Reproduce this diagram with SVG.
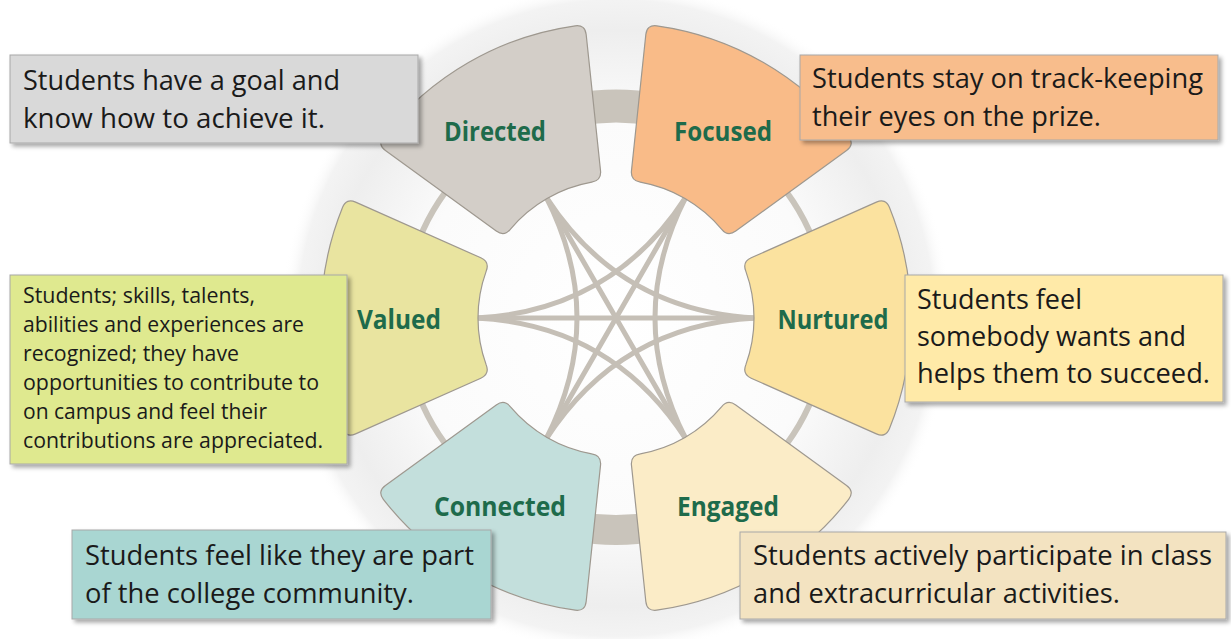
<svg xmlns="http://www.w3.org/2000/svg" xmlns:xlink="http://www.w3.org/1999/xlink" width="1231" height="639" viewBox="0 0 1231 639">
  <style>
    .sector { stroke: #9e988f; stroke-width: 1.2; }
    .lbl { font-family: "Open Sans", "Liberation Sans", sans-serif; font-weight: 700; font-size: 26px; fill: #1e6b4b; text-anchor: middle; }
    .box { stroke: #a8a8a8; stroke-width: 1; filter: url(#shadow); }
    .t { font-family: "Open Sans", "Liberation Sans", sans-serif; font-size: 27px; fill: #1a1a1a; }
    .t.s { font-size: 21px; }
    .link { fill: none; stroke: #c5bfb6; stroke-width: 5; stroke-linecap: round; }
    .ring { fill: none; stroke: #c9c4bb; }
  </style>
  <defs>
    <radialGradient id="halo" cx="616" cy="318" r="335" gradientUnits="userSpaceOnUse">
      <stop offset="0" stop-color="#ffffff"/>
      <stop offset="0.6" stop-color="#fbfbfb"/>
      <stop offset="0.86" stop-color="#eeeeee"/>
      <stop offset="0.95" stop-color="#f3f3f3"/>
      <stop offset="1" stop-color="#ffffff" stop-opacity="0"/>
    </radialGradient>
    <filter id="shadow" x="-5%" y="-10%" width="115%" height="130%">
      <feDropShadow dx="3" dy="3" stdDeviation="2" flood-color="#000" flood-opacity="0.35"/>
    </filter>
    <!-- annular sector, 48 degrees wide, pointing along +x, rounded corners -->
    <path id="sector" d="M135.2,-60.2 L260.4,-115.9 Q269.5,-120 273.4,-110.8 A295,295 0 0 1 273.4,110.8 Q269.5,120 260.4,115.9 L135.2,60.2 Q126.1,56.1 129.8,46.9 A138,138 0 0 0 129.8,-46.9 Q126.1,-56.1 135.2,-60.2 Z"/>
  </defs>

  <rect width="1231" height="639" fill="#ffffff"/>
  <circle cx="616" cy="318" r="335" fill="url(#halo)"/>

  <!-- outer hoop linking neighbouring nodes -->
  <g id="ring">
    <circle class="ring" cx="616" cy="318" r="212" stroke-width="6"/>
    <path class="ring" d="M575.5,109.9 A212,212 0 0 1 656.5,109.9" stroke-width="33"/>
    <path class="ring" d="M575.5,526.1 A212,212 0 0 0 656.5,526.1" stroke-width="30"/>
  </g>

  <!-- links across the middle -->
  <g id="connectors">
    <path class="link" d="M476,318 L756,318"/>
    <path class="link" d="M546,196.8 L686,439.2"/>
    <path class="link" d="M686,196.8 L546,439.2"/>
    <path class="link" d="M546,196.8 Q620,311.1 756,318"/>
    <path class="link" d="M686,196.8 Q624,318 686,439.2"/>
    <path class="link" d="M756,318 Q620,324.9 546,439.2"/>
    <path class="link" d="M686,439.2 Q612,324.9 476,318"/>
    <path class="link" d="M546,439.2 Q608,318 546,196.8"/>
    <path class="link" d="M476,318 Q612,311.1 686,196.8"/>
  </g>

  <g id="node-directed">
    <use href="#sector" class="sector" fill="#d3cec8" transform="translate(616 318) rotate(240)"/>
    <text class="lbl" x="495" y="141" textLength="102" lengthAdjust="spacingAndGlyphs">Directed</text>
    <rect class="box" x="10" y="55" width="408" height="88" fill="#d9d9d9"/>
    <text class="t" x="23" y="90" textLength="317" lengthAdjust="spacingAndGlyphs">Students have a goal and</text>
    <text class="t" x="23" y="128" textLength="302" lengthAdjust="spacingAndGlyphs">know how to achieve it.</text>
  </g>

  <g id="node-focused">
    <use href="#sector" class="sector" fill="#f9bb88" transform="translate(616 318) rotate(300)"/>
    <text class="lbl" x="723" y="141" textLength="98" lengthAdjust="spacingAndGlyphs">Focused</text>
    <rect class="box" x="800" y="55" width="418" height="85" fill="#f8bd8c"/>
    <text class="t" x="812" y="88" textLength="391" lengthAdjust="spacingAndGlyphs">Students stay on track-keeping</text>
    <text class="t" x="812" y="126" textLength="289" lengthAdjust="spacingAndGlyphs">their eyes on the prize.</text>
  </g>

  <g id="node-nurtured">
    <use href="#sector" class="sector" fill="#fbe29f" transform="translate(616 318) rotate(0)"/>
    <text class="lbl" x="833" y="329" textLength="111" lengthAdjust="spacingAndGlyphs">Nurtured</text>
    <rect class="box" x="905" y="275" width="318" height="127" fill="#ffeaa8"/>
    <text class="t" x="917" y="309" textLength="165" lengthAdjust="spacingAndGlyphs">Students feel</text>
    <text class="t" x="917" y="346" textLength="269" lengthAdjust="spacingAndGlyphs">somebody wants and</text>
    <text class="t" x="917" y="383" textLength="293" lengthAdjust="spacingAndGlyphs">helps them to succeed.</text>
  </g>

  <g id="node-engaged">
    <use href="#sector" class="sector" fill="#fbecc7" transform="translate(616 318) rotate(60)"/>
    <text class="lbl" x="728" y="516" textLength="102" lengthAdjust="spacingAndGlyphs">Engaged</text>
    <rect class="box" x="740" y="532" width="486" height="87" fill="#f3e3c1"/>
    <text class="t" x="753" y="565" textLength="459" lengthAdjust="spacingAndGlyphs">Students actively participate in class</text>
    <text class="t" x="753" y="603" textLength="367" lengthAdjust="spacingAndGlyphs">and extracurricular activities.</text>
  </g>

  <g id="node-connected">
    <use href="#sector" class="sector" fill="#c3dfdc" transform="translate(616 318) rotate(120)"/>
    <text class="lbl" x="500" y="516" textLength="132" lengthAdjust="spacingAndGlyphs">Connected</text>
    <rect class="box" x="72" y="530" width="419" height="89" fill="#a9d6d2"/>
    <text class="t" x="85" y="565" textLength="389" lengthAdjust="spacingAndGlyphs">Students feel like they are part</text>
    <text class="t" x="85" y="603" textLength="329" lengthAdjust="spacingAndGlyphs">of the college community.</text>
  </g>

  <g id="node-valued">
    <use href="#sector" class="sector" fill="#e9e4a0" transform="translate(616 318) rotate(180)"/>
    <text class="lbl" x="399" y="329" textLength="84" lengthAdjust="spacingAndGlyphs">Valued</text>
    <rect class="box" x="10" y="275" width="337" height="189" fill="#dfe98f"/>
    <text class="t s" x="23" y="303" textLength="232" lengthAdjust="spacingAndGlyphs">Students; skills, talents,</text>
    <text class="t s" x="23" y="332" textLength="281" lengthAdjust="spacingAndGlyphs">abilities and experiences are</text>
    <text class="t s" x="23" y="361" textLength="216" lengthAdjust="spacingAndGlyphs">recognized; they have</text>
    <text class="t s" x="23" y="390" textLength="296" lengthAdjust="spacingAndGlyphs">opportunities to contribute to</text>
    <text class="t s" x="23" y="419" textLength="244" lengthAdjust="spacingAndGlyphs">on campus and feel their</text>
    <text class="t s" x="23" y="448" textLength="300" lengthAdjust="spacingAndGlyphs">contributions are appreciated.</text>
  </g>
</svg>
